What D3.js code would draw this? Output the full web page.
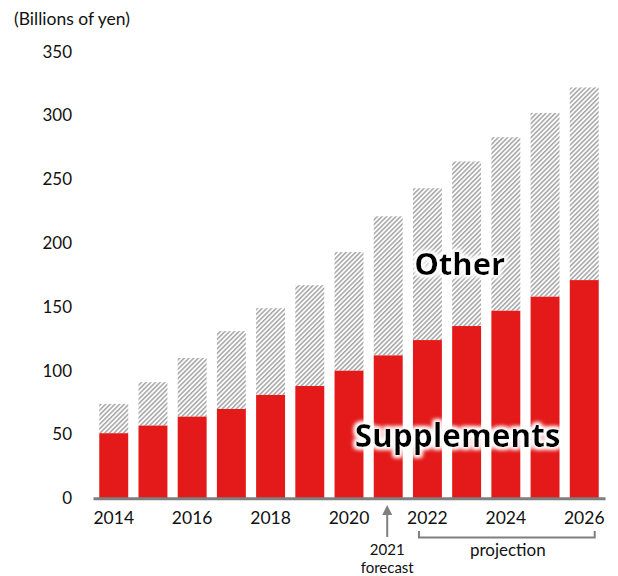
<!DOCTYPE html>
<html>
<head>
<meta charset="utf-8">
<script src="https://cdn.jsdelivr.net/npm/d3@7"></script>
<style>
  html, body { margin: 0; padding: 0; background: #fff; }
  svg { display: block; font-family: Lato, "Open Sans", sans-serif; }
</style>
</head>
<body>
<svg id="chart" width="618" height="576"></svg>
<script>
// Market size by year, billions of yen
const years = [2014, 2015, 2016, 2017, 2018, 2019, 2020, 2021, 2022, 2023, 2024, 2025, 2026];
const supplements = [51, 57, 64, 70, 81, 88, 100, 112, 124, 135, 147, 158, 171];
const totals = [74, 91, 110, 131, 149, 167, 193, 221, 243, 264, 283, 302, 322];
const yTicks = [0, 50, 100, 150, 200, 250, 300, 350];
const xTickYears = [2014, 2016, 2018, 2020, 2022, 2024, 2026];

const svg = d3.select("#chart");

const x = d3.scaleBand()
  .domain(years)
  .range([93, 605])
  .paddingInner(0.262)
  .paddingOuter(0.16);

const y = d3.scaleLinear()
  .domain([0, 350])
  .range([498.3, 51.7]);

const defs = svg.append("defs");

// Diagonal hatch for the "Other" segment
const pat = defs.append("pattern")
  .attr("id", "hatch")
  .attr("patternUnits", "userSpaceOnUse")
  .attr("width", 3.3)
  .attr("height", 3.3)
  .attr("patternTransform", "rotate(45)");
pat.append("rect").attr("width", 3.3).attr("height", 3.3).attr("fill", "#fdfdfd");
pat.append("rect").attr("width", 1.5).attr("height", 3.3).attr("fill", "#a6a6a6");

// Soft white halo behind the segment labels
const glow = defs.append("filter")
  .attr("id", "halo")
  .attr("x", "-20%").attr("y", "-40%")
  .attr("width", "140%").attr("height", "180%");
glow.append("feMorphology").attr("in", "SourceAlpha").attr("operator", "dilate").attr("radius", 2).attr("result", "thick");
glow.append("feGaussianBlur").attr("in", "thick").attr("stdDeviation", 2.2).attr("result", "blur");
glow.append("feFlood").attr("flood-color", "#ffffff").attr("result", "white");
glow.append("feComposite").attr("in", "white").attr("in2", "blur").attr("operator", "in").attr("result", "haloFill");
const merge = glow.append("feMerge");
merge.append("feMergeNode").attr("in", "haloFill");
merge.append("feMergeNode").attr("in", "haloFill");
merge.append("feMergeNode").attr("in", "SourceGraphic");

// Unit label
svg.append("text")
  .attr("x", 14)
  .attr("y", 25)
  .attr("font-size", 17.5)
  .attr("fill", "#111")
  .text("(Billions of yen)");

// Bars: "Other" (hatched) spans supplements -> total
const rows = years.map((yr, i) => ({ yr, sup: supplements[i], tot: totals[i] }));

svg.append("g").selectAll("rect.other")
  .data(rows)
  .join("rect")
  .attr("class", "other")
  .attr("x", d => x(d.yr))
  .attr("width", x.bandwidth())
  .attr("y", d => y(d.tot))
  .attr("height", d => y(d.sup) - y(d.tot))
  .attr("fill", "url(#hatch)");

svg.append("g").selectAll("rect.sup")
  .data(rows)
  .join("rect")
  .attr("class", "sup")
  .attr("x", d => x(d.yr))
  .attr("width", x.bandwidth())
  .attr("y", d => y(d.sup))
  .attr("height", d => y(0) - y(d.sup))
  .attr("fill", "#e41a1a");

// Y axis: labels only
const yAxis = svg.append("g")
  .attr("transform", "translate(75,0)")
  .call(d3.axisLeft(y).tickValues(yTicks).tickSize(0).tickPadding(3));
yAxis.select(".domain").remove();
yAxis.selectAll("text")
  .attr("font-size", 17)
  .attr("font-family", "Lato, 'Open Sans', sans-serif")
  .attr("fill", "#111");

// X axis: gray baseline and even-year labels
const xAxis = svg.append("g")
  .attr("transform", `translate(0,${y(0)})`)
  .call(d3.axisBottom(x).tickValues(xTickYears).tickSizeInner(0).tickSizeOuter(0).tickPadding(13));
xAxis.select(".domain")
  .attr("stroke", "#7f7f7f")
  .attr("stroke-width", 3);
xAxis.selectAll("text")
  .attr("font-size", 17.5)
  .attr("font-family", "Lato, 'Open Sans', sans-serif")
  .attr("fill", "#111");

// 2021 forecast marker
const xc2021 = x(2021) + x.bandwidth() / 2 - 1;
const arrowColor = "#7f7f7f";
svg.append("line")
  .attr("x1", xc2021).attr("x2", xc2021)
  .attr("y1", 512).attr("y2", 537)
  .attr("stroke", arrowColor).attr("stroke-width", 2);
svg.append("path")
  .attr("d", `M${xc2021},505 L${xc2021 - 5},515 L${xc2021 + 5},515 Z`)
  .attr("fill", arrowColor);
svg.append("text")
  .attr("x", xc2021).attr("y", 554.5)
  .attr("text-anchor", "middle")
  .attr("font-size", 15)
  .attr("fill", "#111")
  .text("2021");
svg.append("text")
  .attr("x", xc2021).attr("y", 572.5)
  .attr("text-anchor", "middle")
  .attr("font-size", 15)
  .attr("fill", "#111")
  .text("forecast");

// Projection bracket 2022-2026
const bx0 = x(2022) + 6;
const bx1 = x(2026) + x.bandwidth() - 4;
svg.append("path")
  .attr("d", `M${bx0},531 L${bx0},537.5 L${bx1},537.5 L${bx1},531`)
  .attr("fill", "none")
  .attr("stroke", arrowColor)
  .attr("stroke-width", 2);
svg.append("text")
  .attr("x", (bx0 + bx1) / 2 + 1).attr("y", 556)
  .attr("text-anchor", "middle")
  .attr("font-size", 17)
  .attr("fill", "#111")
  .text("projection");

// Segment labels
svg.append("text")
  .attr("x", x(2023) + x.bandwidth() / 2 - 7)
  .attr("y", y(184) + 11)
  .attr("text-anchor", "middle")
  .attr("font-size", 31)
  .attr("font-weight", 700)
  .attr("font-family", "'Open Sans', Lato, sans-serif")
  .attr("fill", "#000")
  .attr("filter", "url(#halo)")
  .text("Other");

svg.append("text")
  .attr("x", x(2023) + x.bandwidth() / 2 - 9)
  .attr("y", y(49) + 11)
  .attr("text-anchor", "middle")
  .attr("font-size", 31.5)
  .attr("font-weight", 700)
  .attr("font-family", "'Open Sans', Lato, sans-serif")
  .attr("fill", "#000")
  .attr("filter", "url(#halo)")
  .text("Supplements");
</script>
</body>
</html>
